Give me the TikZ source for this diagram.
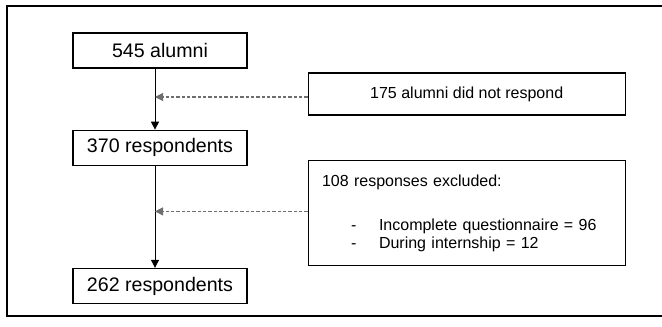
\documentclass[tikz,border=0pt]{standalone}
\usepackage{fontspec}
\setmainfont{Liberation Sans}
\usepackage{tikz}
\usepackage{xcolor}
\usetikzlibrary{arrows.meta,positioning}

\definecolor{dashgray}{RGB}{110,110,110}

\begin{document}
\begin{tikzpicture}[
    node distance=45.75pt and 45pt,
    cnt/.style={draw,line width=0.9pt,align=center,minimum width=130.5pt,minimum height=26.25pt,inner sep=0pt,font=\fontsize{14.7}{17}\selectfont},
    side/.style={draw,line width=0.9pt,minimum width=237.75pt,inner sep=0pt,font=\fontsize{12}{13.5}\selectfont},
    arr/.style={-{Triangle[length=6pt,width=6pt]},line width=0.7pt},
    skip/.style={-{Triangle[length=6pt,width=6pt]},line width=0.8pt,dashgray,dash pattern=on 2.4pt off 1.6pt}
]
\useasboundingbox (0,0) rectangle (496.5pt,-244.5pt);
\draw[line width=1.1pt] (510pt,-4.5pt) -| (5.25pt,-237pt) -- (510pt,-237pt);

\node[cnt] (alumni) at (120pt,-37.9pt) {545 alumni};
\node[cnt,below=of alumni] (resp) {370 respondents};
\node[cnt,below=76.5pt of resp] (final) {262 respondents};

\node[side,minimum height=31.5pt,right=of alumni,yshift=-32.6pt] (nonresp) {175 alumni did not respond};
\node[side,minimum height=79pt,below=33pt of nonresp,align=left,text width=217pt] (excl)
    {108 responses excluded:\\[19.5pt]
     \hspace*{21.75pt}\makebox[21pt][l]{-}Incomplete questionnaire = 96\\
     \hspace*{21.75pt}\makebox[21pt][l]{-}During internship = 12\\[10pt]};

\draw[arr] ([xshift=-3.75pt]alumni.south) -- ([xshift=-3.75pt]resp.north);
\draw[arr] ([xshift=-3.75pt]resp.south) -- ([xshift=-3.75pt]final.north);
\draw[skip] ([yshift=-2.25pt]nonresp.west) -- ([xshift=-3.75pt,yshift=-2.25pt]nonresp.west -| alumni.south);
\draw[skip] ([yshift=1.1pt]excl.west) -- ([xshift=-3.75pt,yshift=1.1pt]excl.west -| resp.south);
\end{tikzpicture}
\end{document}
